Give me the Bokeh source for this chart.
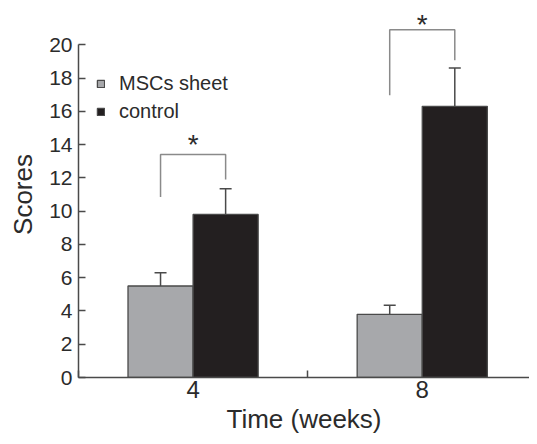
from bokeh.plotting import figure
from bokeh.models import Range1d, FixedTicker, ColumnDataSource, Whisker, TeeHead
from bokeh.core.properties import value
from bokeh.embed import file_html
from bokeh.resources import INLINE

# ---- data ----
weeks = ["4", "8"]
msc_mean = [5.5, 3.8]
msc_err = [0.8, 0.55]
ctrl_mean = [9.8, 16.3]
ctrl_err = [1.55, 2.3]
# significance brackets (y values)
bracket_left_bottom = [10.85, 16.97]
bracket_right_bottom = [11.9, 19.07]
bracket_top = [13.4, 20.9]
star_y = [14.0, 21.2]
y_ticks = [0, 2, 4, 6, 8, 10, 12, 14, 16, 18, 20]

FONT = "Liberation Sans"
GREY = "#a7a8ab"
BLACK = "#231f20"
EDGE = "#4a4a4a"
TXT = "#2b2b2b"

gx = [i + 1 for i in range(len(weeks))]
bw = 0.284
off = 0.142
gx_msc = [x - off for x in gx]
gx_ctrl = [x + off for x in gx]

p = figure(width=529, height=436, output_backend="svg", toolbar_location=None,
           x_range=Range1d(0.5, 2.468), y_range=Range1d(0, 22),
           min_border_left=78, min_border_right=0, min_border_top=11, min_border_bottom=56)
p.outline_line_color = None
p.xgrid.visible = False
p.ygrid.visible = False
p.background_fill_color = "white"
p.border_fill_color = "white"

src_m = ColumnDataSource(dict(x=gx_msc, top=msc_mean,
                              lo=[m - e for m, e in zip(msc_mean, msc_err)],
                              hi=[m + e for m, e in zip(msc_mean, msc_err)]))
src_c = ColumnDataSource(dict(x=gx_ctrl, top=ctrl_mean,
                              hi=[m + e for m, e in zip(ctrl_mean, ctrl_err)]))

p.vbar(x="x", top="top", width=bw, bottom=0, source=src_m, fill_color=GREY,
       line_color=EDGE, line_width=1.3, legend_label="MSCs sheet")
p.vbar(x="x", top="top", width=bw, bottom=0, source=src_c, fill_color=BLACK,
       line_color=EDGE, line_width=1.3, legend_label="control")

p.add_layout(Whisker(base="x", lower="lo", upper="hi", source=src_m,
                     line_color=EDGE, line_width=1.5,
                     upper_head=TeeHead(size=12, line_color=EDGE, line_width=1.5),
                     lower_head=TeeHead(size=12, line_color=EDGE, line_width=1.5)))
p.add_layout(Whisker(base="x", lower="top", upper="hi", source=src_c,
                     line_color=EDGE, line_width=1.5,
                     upper_head=TeeHead(size=12, line_color=EDGE, line_width=1.5),
                     lower_head=None))

xs = [[a, a, b, b] for a, b in zip(gx_msc, gx_ctrl)]
ys = [[l, t, t, r] for l, t, r in zip(bracket_left_bottom, bracket_top, bracket_right_bottom)]
p.multi_line(xs=xs, ys=ys, line_color="#8a8a8a", line_width=1.5)
p.text(x=gx, y=star_y, text=["*"] * len(gx), text_font=value(FONT), text_font_size="28px",
       text_align="center", text_baseline="alphabetic", text_color=TXT)

xa = p.xaxis[0]
xa.ticker = FixedTicker(ticks=gx, minor_ticks=[0.5, 1.5, 2.5])
xa.major_label_overrides = {x: w for x, w in zip(gx, weeks)}
xa.major_tick_in = 0
xa.major_tick_out = 0
xa.minor_tick_in = 7
xa.minor_tick_out = 0
xa.axis_label = "Time (weeks)"

ya = p.yaxis[0]
ya.ticker = FixedTicker(ticks=y_ticks, minor_ticks=[])
ya.bounds = (0, 20)
ya.major_tick_in = 7
ya.major_tick_out = 0
ya.minor_tick_in = 0
ya.minor_tick_out = 0
ya.axis_label = "Scores"

for ax in (xa, ya):
    ax.axis_line_color = EDGE
    ax.axis_line_width = 1.5
    ax.major_tick_line_color = EDGE
    ax.major_tick_line_width = 1.5
    ax.minor_tick_line_color = EDGE
    ax.minor_tick_line_width = 1.5
    ax.major_label_text_font = FONT
    ax.major_label_text_color = TXT
    ax.axis_label_text_font = FONT
    ax.axis_label_text_font_size = "26px"
    ax.axis_label_text_font_style = "normal"
    ax.axis_label_text_color = TXT

xa.major_label_text_font_size = "24px"
ya.major_label_text_font_size = "21px"
xa.major_label_standoff = 3
xa.axis_label_standoff = 3
ya.major_label_standoff = 6
ya.axis_label_standoff = 8

lg = p.legend[0]
lg.location = (18, 254)
lg.padding = 0
lg.margin = 0
lg.spacing = 5
lg.glyph_width = 9
lg.glyph_height = 9
lg.label_height = 20
lg.label_standoff = 14
lg.label_text_font = FONT
lg.label_text_font_size = "20px"
lg.label_text_color = TXT
lg.border_line_alpha = 0
lg.background_fill_alpha = 0

open("out.html", "w").write(file_html(p, INLINE))
